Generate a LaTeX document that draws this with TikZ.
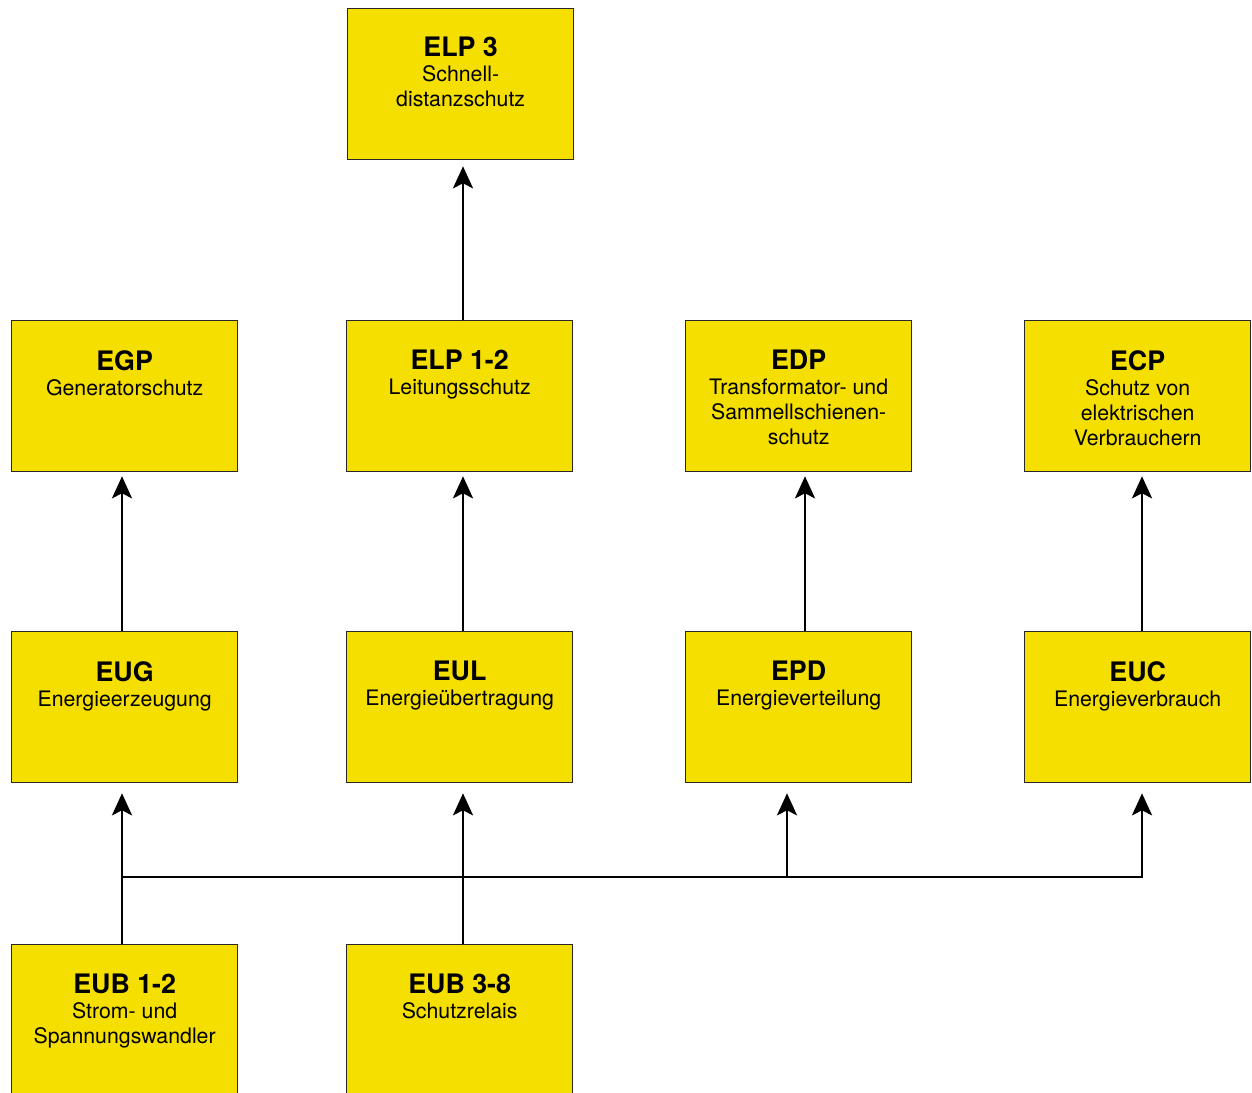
\documentclass[tikz,border=0pt]{standalone}
\usepackage{fontspec}
\setmainfont{TeX Gyre Heros}
\usetikzlibrary{arrows.meta,calc}
\definecolor{boxyellow}{RGB}{245,223,0}
\definecolor{boxedge}{RGB}{40,40,40}
\begin{document}
\begin{tikzpicture}[x=1pt,y=-1pt,
  box/.style={draw=boxedge,line width=1.3pt,fill=boxyellow,minimum width=226pt,minimum height=151pt,anchor=north west,inner sep=0pt},
  lbl/.style={anchor=north,align=center,inner sep=0pt,font=\fontsize{21.3}{25}\selectfont},
  conn/.style={line width=2.7pt,black},
  arr/.style={conn,-{Stealth[length=22pt,width=20pt,inset=5pt]}}]
\useasboundingbox (0,0) rectangle (1252,1092);
\fill[white] (0,0) rectangle (1252,1092);
\newcommand{\ttlx}[1]{{\fontsize{26.8}{25}\selectfont\bfseries #1}}
% boxes
\node[box] (elp3) at (347,8) {};
\node[box] (egp) at (11,320) {};
\node[box] (elp12) at (346,320) {};
\node[box] (edp) at (685,320) {};
\node[box] (ecp) at (1024,320) {};
\node[box] (eug) at (11,631) {};
\node[box] (eul) at (346,631) {};
\node[box] (epd) at (685,631) {};
\node[box] (euc) at (1024,631) {};
\node[box] (eub12) at (11,944) {};
\node[box] (eub38) at (346,944) {};
% texts
\node[lbl] (telp3) at ([yshift=-29pt]elp3.north) {\ttlx{ELP 3}\\Schnell-\\distanzschutz};
\node[lbl] (tegp) at ([yshift=-30pt]egp.north) {\ttlx{EGP}\\Generatorschutz};
\node[lbl] (telp12) at ([yshift=-30pt]elp12.north) {\ttlx{ELP 1-2}\\Leitungsschutz};
\node[lbl] (tedp) at ([yshift=-30pt]edp.north) {\ttlx{EDP}\\Transformator- und\\Sammellschienen-\\schutz};
\node[lbl] (tecp) at ([yshift=-30pt]ecp.north) {\ttlx{ECP}\\Schutz von\\elektrischen\\Verbrauchern};
\node[lbl] (teug) at ([yshift=-30pt]eug.north) {\ttlx{EUG}\\Energieerzeugung};
\node[lbl] (teul) at ([yshift=-30pt]eul.north) {\ttlx{EUL}\\Energieübertragung};
\node[lbl] (tepd) at ([yshift=-30pt]epd.north) {\ttlx{EPD}\\Energieverteilung};
\node[lbl] (teuc) at ([yshift=-30pt]euc.north) {\ttlx{EUC}\\Energieverbrauch};
\node[lbl] (teub12) at ([yshift=-30pt]eub12.north) {\ttlx{EUB 1-2}\\Strom- und\\Spannungswandler};
\node[lbl] (teub38) at ([yshift=-30pt]eub38.north) {\ttlx{EUB 3-8}\\Schutzrelais};
% columns
\coordinate (c1) at (122,0);
\coordinate (c2) at (463,0);
\coordinate (c3) at (805,0);
\coordinate (c3b) at (787,0);
\coordinate (c4) at (1142,0);
\coordinate (hub) at (122,877);
% connectors
\draw[arr,shorten >=6pt] (elp12.north -| c2) -- (elp3.south -| c2);
\draw[arr,shorten >=4pt] (eug.north -| c1) -- (egp.south -| c1);
\draw[arr,shorten >=4pt] (eul.north -| c2) -- (elp12.south -| c2);
\draw[arr,shorten >=4pt] (epd.north -| c3) -- (edp.south -| c3);
\draw[arr,shorten >=4pt] (euc.north -| c4) -- (ecp.south -| c4);
\draw[arr,shorten >=10pt] (eub12.north -| c1) -- (eug.south -| c1);
\draw[arr,shorten >=10pt] (eub38.north -| c2) -- (eul.south -| c2);
\draw[arr,shorten >=10pt] (hub) -- (hub -| c4) -- (euc.south -| c4);
\draw[arr,shorten >=10pt] (hub -| c3b) -- (epd.south -| c3b);
\end{tikzpicture}
\end{document}
